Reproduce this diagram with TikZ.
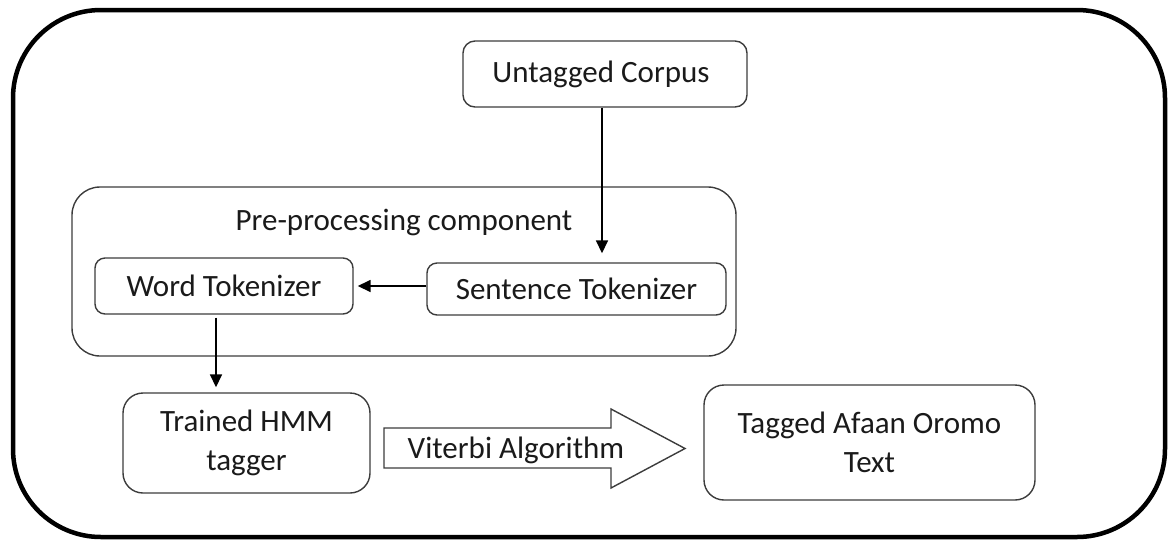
\documentclass[tikz,border=0pt]{standalone}
\usepackage{fontspec}
\setmainfont{Carlito}
\usetikzlibrary{arrows.meta}
\definecolor{boxline}{HTML}{3C3C3C}
\definecolor{ink}{HTML}{1A1A1A}
\tikzset{
  frame/.style={draw=black, line width=4.5pt, rounded corners=88pt},
  procbox/.style={draw=boxline, line width=1.4pt, rounded corners=#1,
    align=center, text=ink, inner sep=0pt, font=\fontsize{31}{39}\selectfont},
  procbox/.default=12pt,
  grouplabel/.style={text=ink, inner sep=0pt, font=\fontsize{31}{39}\selectfont},
  flow/.style={draw=black, line width=1.6pt, -{Triangle[length=13pt,width=12pt]}},
  bigarrow/.style={draw=boxline, line width=1.4pt, fill=white},
}
\begin{document}
\begin{tikzpicture}[x=1pt,y=-1pt]
  \useasboundingbox (0,0) rectangle (1168,542);
  % outer frame
  \draw[frame] (13,10) rectangle (1165,537);

  % pre-processing group
  \node[procbox=28pt, minimum width=664pt, minimum height=169pt] (pre) at (404,271.5) {};
  \node[grouplabel] (prelabel) at (404,222) {Pre-processing component};

  % boxes
  \node[procbox, minimum width=284pt, minimum height=66pt] (corpus) at (605,74) {Untagged Corpus\hspace*{8pt}};
  \node[procbox=10pt, minimum width=258pt, minimum height=56pt] (word) at (224,286) {Word Tokenizer};
  \node[procbox=10pt, minimum width=299pt, minimum height=52pt] (sent) at (576.5,289) {Sentence Tokenizer};
  \node[procbox=20pt, minimum width=247pt, minimum height=100pt] (hmm) at (246.5,443) {Trained HMM\\tagger};
  \node[procbox=20pt, minimum width=331pt, minimum height=115pt] (tagged) at (869.5,442.5) {Tagged Afaan Oromo\\Text};

  % connectors
  \coordinate (cdown) at ([xshift=-3pt]corpus.south);
  \draw[flow] (cdown) -- ([yshift=9pt]cdown |- sent.north);
  \draw[flow] (sent.west |- word.east) -- ([xshift=4pt]word.east);
  \coordinate (wdown) at ([xshift=-8pt,yshift=-3pt]word.south);
  \draw[flow] (wdown) -- ([yshift=5pt]wdown |- hmm.north);

  % block arrow
  \draw[bigarrow] (384,428) -- (611,428) -- (611,409) -- (685,448.5)
    -- (611,488) -- (611,468) -- (384,468) -- cycle;
  \node[grouplabel] (viterbi) at (516,450) {Viterbi Algorithm};
\end{tikzpicture}
\end{document}
